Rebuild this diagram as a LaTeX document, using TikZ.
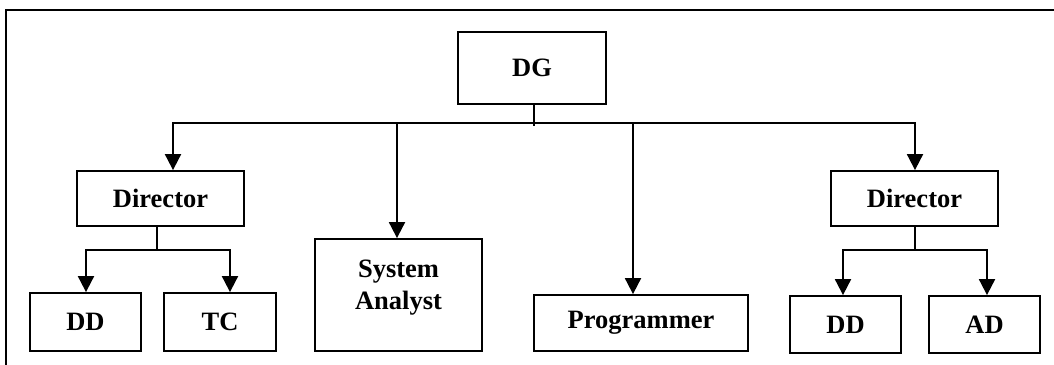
\documentclass[tikz,border=0pt]{standalone}
\usepackage{fontspec}
\setmainfont{Liberation Serif}
\usetikzlibrary{arrows.meta}
\begin{document}
\begin{tikzpicture}[x=1pt,y=-1pt,
  box/.style={draw,line width=1.8pt,inner sep=0pt,font=\fontsize{26.5}{32}\selectfont\bfseries,align=center},
  lbl/.style={inner sep=0pt,font=\fontsize{26.5}{32}\selectfont\bfseries,align=center},
  conn/.style={line width=1.9pt},
  arr/.style={conn,-{Triangle[width=16pt,length=16pt]}}]
\useasboundingbox (0,0) rectangle (1054,364);
\draw[line width=1.8pt] (6,366) -- (6,10) -- (1056,10);
% boxes
\node[box,minimum width=148pt,minimum height=72pt] (dg) at (532,68) {DG};
\node[box,minimum width=167pt,minimum height=55pt] (dirl) at (160.5,198.5) {Director};
\node[box,minimum width=167pt,minimum height=112pt] (sa) at (398.5,295) {};
\node[lbl] (satext) at (398.5,288) {System\\Analyst};
\node[box,minimum width=214pt,minimum height=56pt] (prog) at (641,323) {Programmer};
\node[box,minimum width=167pt,minimum height=55pt] (dirr) at (914.5,198.5) {Director};
\node[box,minimum width=111pt,minimum height=58pt] (dd1) at (85.5,322) {DD};
\node[box,minimum width=112pt,minimum height=58pt] (tc) at (220,322) {TC};
\node[box,minimum width=111pt,minimum height=57pt] (dd2) at (845.5,324.5) {DD};
\node[box,minimum width=111pt,minimum height=57pt] (ad) at (984.5,324.5) {AD};
% junction coordinates
\coordinate (dgj) at (534,126);
\coordinate (bl) at (173,123);
\coordinate (bsa) at (397,123);
\coordinate (bpr) at (633,123);
\coordinate (br) at (915,123);
\coordinate (lj) at (157,250);
\coordinate (rj) at (915,250);
\coordinate (ldd) at (86,250);
\coordinate (ltc) at (230,250);
\coordinate (rdd) at (843,250);
\coordinate (rad) at (987,250);
% top level
\draw[conn] (dg.south -| dgj) -- (dgj);
\draw[conn] (bsa) -- (bpr);
\draw[arr] (bsa) -| (bl |- dirl.north);
\draw[arr] (bpr) -| (br |- dirr.north);
\draw[arr] (bsa) -- (bsa |- sa.north);
\draw[arr] (bpr) -- (bpr |- prog.north);
% left director
\draw[conn] (dirl.south -| lj) -- (lj);
\draw[arr] (lj) -| (ldd |- dd1.north);
\draw[arr] (lj) -| (ltc |- tc.north);
% right director
\draw[conn] (dirr.south -| rj) -- (rj);
\draw[arr] (rj) -| (rdd |- dd2.north);
\draw[arr] (rj) -| (rad |- ad.north);
\end{tikzpicture}
\end{document}
